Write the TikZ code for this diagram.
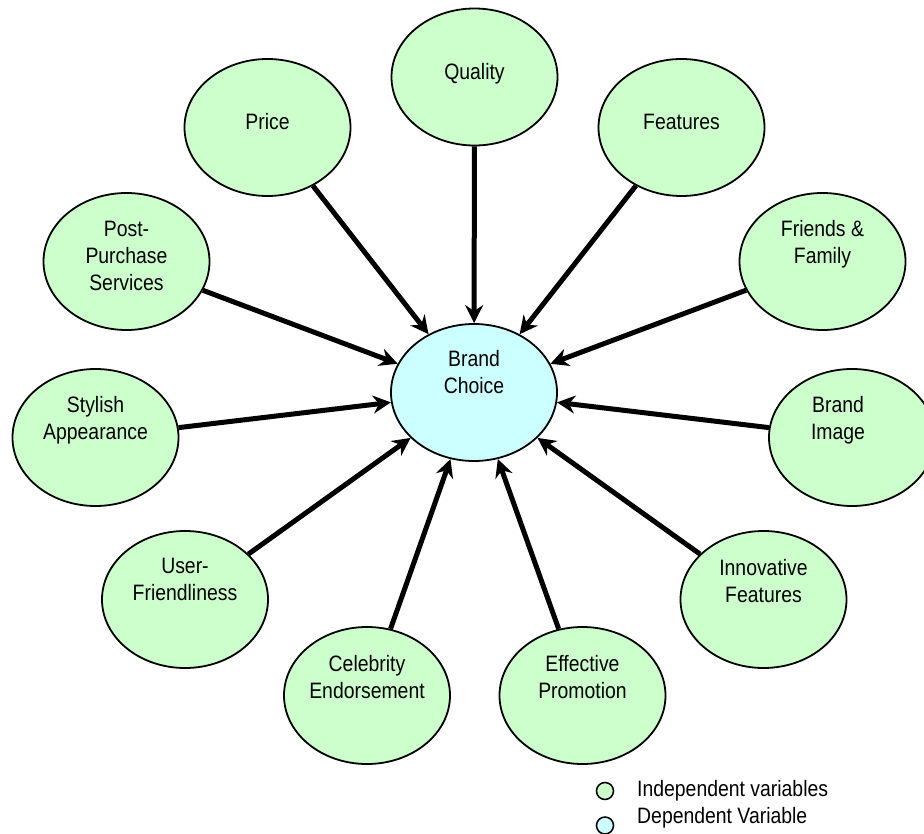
\documentclass[tikz,border=0pt]{standalone}
\usepackage{fontspec}
\setmainfont{Liberation Sans}[FakeStretch=0.87]
\usetikzlibrary{shapes,arrows.meta}
\definecolor{indepgreen}{RGB}{204,255,204}
\definecolor{depblue}{RGB}{204,255,255}

\begin{document}
\begin{tikzpicture}[x=1pt, y=-1pt,
    indep/.style={ellipse, draw, line width=1.8pt, fill=indepgreen, minimum width=166pt, minimum height=137pt, inner sep=0pt},
    dep/.style={indep, fill=depblue},
    txt/.style={align=center, inner sep=0pt, font=\fontsize{22.3}{27}\selectfont},
    arr/.style={line width=5pt, -{Stealth[length=18pt, width=18pt, inset=6pt]}},
    legdot/.style={circle, draw, line width=1.5pt, minimum size=17pt, inner sep=0pt}]

    \clip (0,0) rectangle (924,834);
    \useasboundingbox (0,0) rectangle (924,834);

    \node[dep] (brand) at (474,392.5) {};

    \node[indep] (quality) at (474.5,77) {};
    \node[indep] (price) at (267.5,127.5) {};
    \node[indep] (features) at (681.5,127.5) {};
    \node[indep] (friends) at (822.5,261.5) {};
    \node[indep] (post) at (126.5,261.5) {};
    \node[indep] (stylish) at (95.5,437.5) {};
    \node[indep] (image) at (852,437.5) {};
    \node[indep] (user) at (185,599.5) {};
    \node[indep] (innov) at (763.5,599.5) {};
    \node[indep] (celeb) at (367,695.5) {};
    \node[indep] (promo) at (582.5,695.5) {};

    \draw[arr] (quality) -- (brand);
    \draw[arr] (price) -- (brand);
    \draw[arr] (features) -- (brand);
    \draw[arr] (friends) -- (brand);
    \draw[arr] (post) -- (brand);
    \draw[arr] (stylish) -- (brand);
    \draw[arr] (image) -- (brand);
    \draw[arr] (user) -- (brand);
    \draw[arr] (innov) -- (brand);
    \draw[arr] (celeb) -- (brand);
    \draw[arr] (promo) -- (brand);

    \node[txt, anchor=north] (brand-t) at (474,350) {Brand\\Choice};

    \node[txt, anchor=base] (quality-t) at (474.5,80) {Quality};
    \node[txt, anchor=base] (price-t) at (267.5,130) {Price};
    \node[txt, anchor=base] (features-t) at (681.5,130) {Features};
    \node[txt, anchor=north] (friends-t) at (822.5,220.5) {Friends \&\\Family};
    \node[txt, anchor=north] (post-t) at (126.5,220.5) {Post-\\Purchase\\Services};
    \node[txt, anchor=north] (stylish-t) at (95.5,395.7) {Stylish\\Appearance};
    \node[txt, anchor=north] (image-t) at (838,395.7) {Brand\\Image};
    \node[txt, anchor=north] (user-t) at (185,558) {User-\\Friendliness};
    \node[txt, anchor=north] (innov-t) at (763.5,559) {Innovative\\Features};
    \node[txt, anchor=north] (celeb-t) at (367,654.7) {Celebrity\\Endorsement};
    \node[txt, anchor=north] (promo-t) at (582.5,654.7) {Effective\\Promotion};

    \node[legdot, fill=indepgreen] (leg-indep) at (605,791) {};
    \node[legdot, fill=depblue] (leg-dep) at (605,825.5) {};
    \node[txt, anchor=base west] (leg-indep-t) at (637,796) {Independent variables};
    \node[txt, anchor=base west] (leg-dep-t) at (637,823) {Dependent Variable};

\end{tikzpicture}
\end{document}
